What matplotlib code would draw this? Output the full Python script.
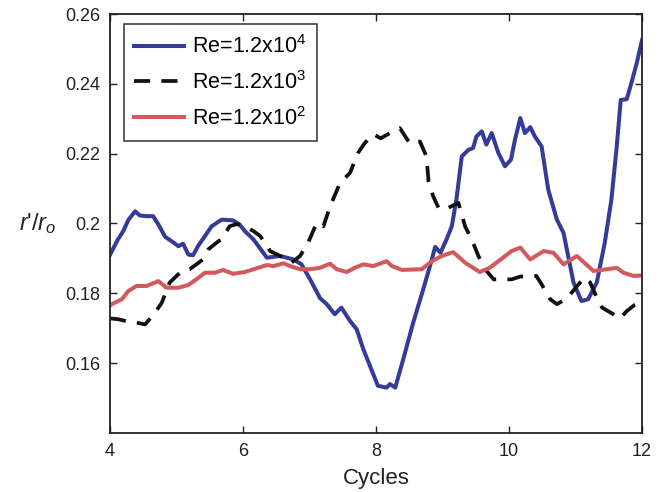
import matplotlib
matplotlib.use("Agg")
import matplotlib.pyplot as plt

plt.rcParams['font.family'] = ['Liberation Sans', 'DejaVu Sans']
plt.rcParams['mathtext.fontset'] = 'custom'
plt.rcParams['mathtext.rm'] = 'Liberation Sans'
plt.rcParams['mathtext.it'] = 'Liberation Sans:italic'
plt.rcParams['mathtext.default'] = 'regular'

# Data
x_hi = [4.00, 4.12, 4.20, 4.28, 4.38, 4.45, 4.55, 4.65, 4.73, 4.83, 4.93, 5.03, 5.10,
        5.18, 5.25, 5.33, 5.43, 5.53, 5.68, 5.85, 5.95, 6.03, 6.16, 6.36, 6.56, 6.76,
        6.88, 7.01, 7.16, 7.26, 7.38, 7.48, 7.61, 7.71, 7.81, 7.91, 8.03, 8.16, 8.21,
        8.29, 8.41, 8.56, 8.71, 8.84, 8.89, 8.97, 9.06, 9.14, 9.21, 9.29, 9.39, 9.46,
        9.51, 9.59, 9.66, 9.74, 9.84, 9.94, 10.03, 10.09, 10.17, 10.24, 10.32, 10.39,
        10.49, 10.59, 10.72, 10.82, 10.97, 11.09, 11.19, 11.32, 11.44, 11.54, 11.62,
        11.68, 11.77, 11.84, 11.92, 12.00]
y_hi = [0.1910, 0.1954, 0.1978, 0.2011, 0.2035, 0.2023, 0.2021, 0.2021, 0.1997, 0.1962,
        0.1949, 0.1935, 0.1942, 0.1911, 0.1909, 0.1937, 0.1964, 0.1992, 0.2011, 0.2009,
        0.1997, 0.1978, 0.1954, 0.1902, 0.1907, 0.1897, 0.1883, 0.1840, 0.1786, 0.1769,
        0.1740, 0.1759, 0.1721, 0.1697, 0.1640, 0.1592, 0.1535, 0.1530, 0.1540, 0.1530,
        0.1611, 0.1716, 0.1811, 0.1897, 0.1933, 0.1916, 0.1954, 0.1992, 0.2069, 0.2192,
        0.2211, 0.2216, 0.2249, 0.2264, 0.2226, 0.2259, 0.2202, 0.2164, 0.2183, 0.2240,
        0.2302, 0.2259, 0.2276, 0.2249, 0.2221, 0.2097, 0.2011, 0.1973, 0.1831, 0.1778,
        0.1783, 0.1831, 0.1945, 0.2069, 0.2221, 0.2354, 0.2356, 0.2402, 0.2459, 0.2525]

x_mid = [4.00, 4.12, 4.25, 4.40, 4.53, 4.68, 4.78, 4.90, 5.08, 5.20, 5.40, 5.48, 5.63,
         5.68, 5.80, 5.90, 6.00, 6.16, 6.26, 6.41, 6.56, 6.73, 6.86, 6.98, 7.11, 7.21,
         7.31, 7.46, 7.61, 7.73, 7.83, 7.96, 8.07, 8.21, 8.36, 8.51, 8.66, 8.76, 8.79,
         8.86, 8.94, 9.04, 9.14, 9.24, 9.34, 9.44, 9.54, 9.64, 9.77, 10.04, 10.17, 10.41,
         10.49, 10.62, 10.72, 10.87, 10.99, 11.13, 11.22, 11.32, 11.40, 11.57, 11.67,
         11.77, 11.89, 12.00]
y_mid = [0.1728, 0.1726, 0.1720, 0.1716, 0.1711, 0.1745, 0.1773, 0.1831, 0.1864, 0.1869,
         0.1897, 0.1926, 0.1949, 0.1954, 0.1992, 0.1998, 0.1995, 0.1978, 0.1964, 0.1921,
         0.1907, 0.1888, 0.1907, 0.1945, 0.2002, 0.1992, 0.2049, 0.2116, 0.2145, 0.2202,
         0.2230, 0.2256, 0.2244, 0.2259, 0.2273, 0.2229, 0.2235, 0.2192, 0.2121, 0.2078,
         0.2045, 0.2040, 0.2050, 0.2059, 0.1992, 0.1954, 0.1907, 0.1869, 0.1840, 0.1840,
         0.1848, 0.1850, 0.1826, 0.1783, 0.1769, 0.1785, 0.1813, 0.1845, 0.1831, 0.1788,
         0.1759, 0.1740, 0.1728, 0.1749, 0.1767, 0.1776]

x_lo = [4.00, 4.03, 4.18, 4.28, 4.40, 4.55, 4.73, 4.85, 5.03, 5.18, 5.30, 5.43, 5.58,
        5.70, 5.85, 6.03, 6.16, 6.36, 6.46, 6.61, 6.71, 6.86, 7.01, 7.16, 7.31, 7.41,
        7.56, 7.68, 7.81, 7.96, 8.16, 8.24, 8.39, 8.69, 8.84, 8.99, 9.16, 9.34, 9.56,
        9.71, 9.84, 10.04, 10.17, 10.32, 10.52, 10.67, 10.82, 11.02, 11.27, 11.47,
        11.62, 11.72, 11.87, 12.00]
y_lo = [0.1765, 0.1769, 0.1783, 0.1807, 0.1821, 0.1821, 0.1835, 0.1816, 0.1816, 0.1824,
        0.1840, 0.1859, 0.1859, 0.1867, 0.1856, 0.1861, 0.1869, 0.1881, 0.1878, 0.1886,
        0.1878, 0.1869, 0.1869, 0.1873, 0.1885, 0.1869, 0.1861, 0.1873, 0.1883, 0.1878,
        0.1892, 0.1878, 0.1867, 0.1869, 0.1892, 0.1907, 0.1918, 0.1888, 0.1861, 0.1873,
        0.1892, 0.1921, 0.1931, 0.1897, 0.1921, 0.1916, 0.1883, 0.1907, 0.1864, 0.1869,
        0.1873, 0.1859, 0.1850, 0.1851]

labels = [r'Re=1.2x10$^{4}$', r'Re=1.2x10$^{3}$', r'Re=1.2x10$^{2}$']
xticks = [4, 6, 8, 10, 12]
yticks = [0.16, 0.18, 0.20, 0.22, 0.24, 0.26]
yticklabels = ['0.16', '0.18', '0.2', '0.22', '0.24', '0.26']

fig = plt.figure(figsize=(6.66, 4.92), dpi=100)
ax = fig.add_axes([0.165, 0.12, 0.799, 0.8515])

ax.plot(x_hi, y_hi, color='#353c97', lw=2.9, solid_joinstyle='round', label=labels[0])
ax.plot(x_mid, y_mid, color='#111111', lw=2.7, linestyle=(0, (4.3, 3.0)), label=labels[1])
ax.plot(x_lo, y_lo, color='#d25a5c', lw=2.9, solid_joinstyle='round', label=labels[2])

ax.set_xlim(4, 12)
ax.set_ylim(0.14, 0.26)
ax.set_xticks(xticks)
ax.set_xticklabels([str(v) for v in xticks])
ax.set_yticks(yticks)
ax.set_yticklabels(yticklabels)
ax.tick_params(direction='in', top=True, right=True, length=5, width=1.0,
               labelsize=13, pad=7, colors='#222222')
for s in ax.spines.values():
    s.set_linewidth(1.3)
    s.set_color('#222222')

ax.set_xlabel('Cycles', fontsize=16, color='#222222', va='top')
ax.xaxis.set_label_coords(0.5, -0.083)
ax.set_ylabel(r"$\mathit{r}$'/$\mathit{r_o}$", fontsize=17, rotation=0, ha='right',
              va='center', color='#222222')
ax.yaxis.set_label_coords(-0.1, 0.5)

leg = ax.legend(loc='upper left', bbox_to_anchor=(0.026, 0.975), borderaxespad=0,
                fontsize=15.5, frameon=True, fancybox=False, handlelength=2.3,
                labelspacing=0.6, borderpad=0.5, handletextpad=0.35)
leg.get_frame().set_edgecolor('#111111')
leg.get_frame().set_linewidth(1.2)

fig.savefig('out.png', dpi=100)
